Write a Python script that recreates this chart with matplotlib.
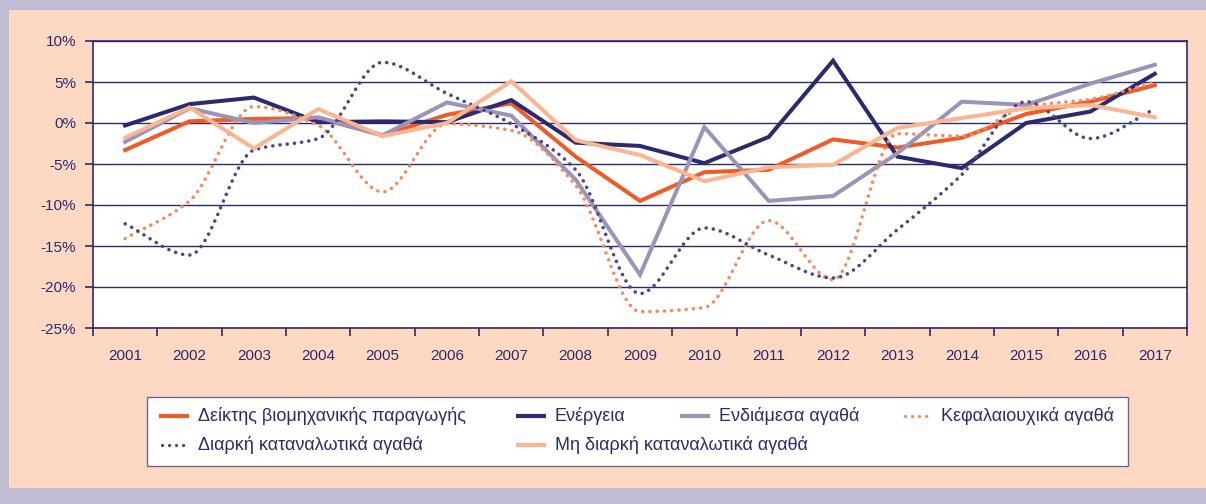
import numpy as np
import matplotlib
matplotlib.use("Agg")
import matplotlib.pyplot as plt
from matplotlib.path import Path
from matplotlib.patches import PathPatch, Rectangle
from matplotlib.lines import Line2D
from matplotlib.ticker import FixedLocator, FuncFormatter

plt.rcParams['font.family'] = ['Liberation Sans', 'DejaVu Sans']

years = [str(y) for y in range(2001, 2018)]

# yearly change, %
deiktis = [-3.3, 0.2, 0.5, 0.6, -1.5, 1.0, 2.4, -4.1, -9.5, -6.0, -5.7, -2.0, -3.0, -1.8, 1.1, 2.6, 4.6]
energeia = [-0.3, 2.3, 3.1, 0.1, 0.2, 0.1, 2.8, -2.4, -2.8, -4.9, -1.7, 7.6, -4.1, -5.5, 0.0, 1.4, 6.0]
endiamesa = [-2.3, 1.8, 0.0, 0.7, -1.5, 2.5, 0.9, -6.9, -18.5, -0.5, -9.5, -8.9, -3.7, 2.6, 2.2, 4.8, 7.1]
kefalaiouxika = [-14.1, -9.5, 2.0, -0.3, -8.4, -0.1, -0.9, -7.6, -23.0, -22.5, -11.9, -19.1, -1.3, -1.6, 2.0, 2.9, 5.0]
diarki = [-12.3, -16.1, -3.3, -1.9, 7.4, 3.6, -0.1, -5.7, -20.8, -12.8, -16.1, -18.9, -13.0, -6.3, 2.6, -1.9, 1.7]
mi_diarki = [-1.8, 1.9, -3.1, 1.7, -1.6, 0.0, 5.1, -2.1, -3.9, -7.1, -5.4, -5.1, -0.6, 0.6, 1.8, 2.2, 0.7]

labels = ['Δείκτης βιομηχανικής παραγωγής', 'Ενέργεια', 'Ενδιάμεσα αγαθά',
          'Κεφαλαιουχικά αγαθά', 'Διαρκή καταναλωτικά αγαθά', 'Μη διαρκή καταναλωτικά αγαθά']

NAVY = '#2b2a6e'
LAVENDER = '#c1bdd5'
PEACH = '#fdd9c3'

series = [
    (deiktis, '#f15a24', 'solid'),
    (energeia, NAVY, 'solid'),
    (endiamesa, '#9a94b8', 'solid'),
    (kefalaiouxika, '#f58b5c', 'dot'),
    (diarki, '#4b4685', 'dot'),
    (mi_diarki, '#fbb58f', 'solid'),
]

W, H = 1206, 504
fig = plt.figure(figsize=(W / 100, H / 100), dpi=100)
fig.patch.set_facecolor(LAVENDER)
fig.add_artist(Rectangle((9 / W, 16 / H), 1 - 9 / W, (H - 10 - 16) / H,
                         transform=fig.transFigure, facecolor=PEACH, edgecolor='none', zorder=0))

ax = fig.add_axes([93 / W, (H - 328) / H, (1187 - 93) / W, (328 - 41) / H])
ax.set_facecolor('white')


def smooth_path(xs, ys):
    # smoothed line through the points, monotone tangents so it doesn't overshoot
    xs = np.asarray(xs, float)
    ys = np.asarray(ys, float)
    n = len(xs)
    d = np.diff(ys) / np.diff(xs)
    m = np.zeros(n)
    m[0], m[-1] = d[0], d[-1]
    for i in range(1, n - 1):
        if d[i - 1] * d[i] > 0:
            m[i] = 2.0 / (1.0 / d[i - 1] + 1.0 / d[i])
    verts = [(xs[0], ys[0])]
    codes = [Path.MOVETO]
    for i in range(n - 1):
        h = xs[i + 1] - xs[i]
        verts += [(xs[i] + h / 3, ys[i] + m[i] * h / 3),
                  (xs[i + 1] - h / 3, ys[i + 1] - m[i + 1] * h / 3),
                  (xs[i + 1], ys[i + 1])]
        codes += [Path.CURVE4] * 3
    return Path(verts, codes)


x = np.arange(len(years))
for vals, col, style in series:
    if style == 'solid':
        ax.plot(x, vals, color=col, lw=2.9, solid_joinstyle='miter', zorder=3)
    else:
        ax.add_patch(PathPatch(smooth_path(x, vals), fill=False, edgecolor=col, lw=2.6,
                               linestyle=(0, (0.01, 2.0)), capstyle='round', zorder=3))

ax.set_xlim(-0.5, len(years) - 0.5)
ax.set_ylim(-25, 10)
ax.set_yticks(np.arange(-25, 11, 5))
ax.yaxis.set_major_formatter(FuncFormatter(lambda v, p: f"{v:.0f}%"))
ax.grid(axis='y', color=NAVY, lw=1.0)
ax.set_axisbelow(True)

ax.xaxis.set_major_locator(FixedLocator(np.arange(-0.5, len(years), 1.0)))
ax.xaxis.set_minor_locator(FixedLocator(x))
ax.set_xticklabels([], minor=False)
ax.set_xticklabels(years, minor=True)
ax.tick_params(axis='x', which='major', length=6, width=1.2, color=NAVY, direction='out')
ax.tick_params(axis='x', which='minor', length=0, pad=15, labelsize=11, labelcolor=NAVY)
ax.tick_params(axis='y', length=6, width=1.2, color=NAVY, pad=6, labelsize=11, labelcolor=NAVY)

for s in ax.spines.values():
    s.set_color(NAVY)
    s.set_linewidth(1.2)

# legend box, laid out like the original
fig.add_artist(Rectangle((147 / W, (H - 466) / H), (1128 - 147) / W, (466 - 397) / H,
                         transform=fig.transFigure, facecolor='white', edgecolor='#6c6894',
                         lw=1.0, zorder=2))
spots = [(159, 416), (516, 416), (680, 416), (902, 416), (159, 445), (516, 445)]
for (vals, col, style), lab, (px, py) in zip(series, labels, spots):
    yy = (H - py) / H
    if style == 'solid':
        fig.add_artist(Line2D([px / W, (px + 30) / W], [yy, yy], transform=fig.transFigure,
                              color=col, lw=3.0, solid_capstyle='butt', zorder=3))
    else:
        fig.add_artist(Line2D([(px + 3) / W, (px + 25) / W], [yy, yy], transform=fig.transFigure,
                              color=col, lw=2.4, linestyle=(0, (0.01, 2.1)),
                              dash_capstyle='round', zorder=3))
    fig.text((px + 39) / W, yy, lab, ha='left', va='center', fontsize=13, color=NAVY, zorder=4)

fig.savefig('out.png', dpi=100, facecolor=fig.get_facecolor())
